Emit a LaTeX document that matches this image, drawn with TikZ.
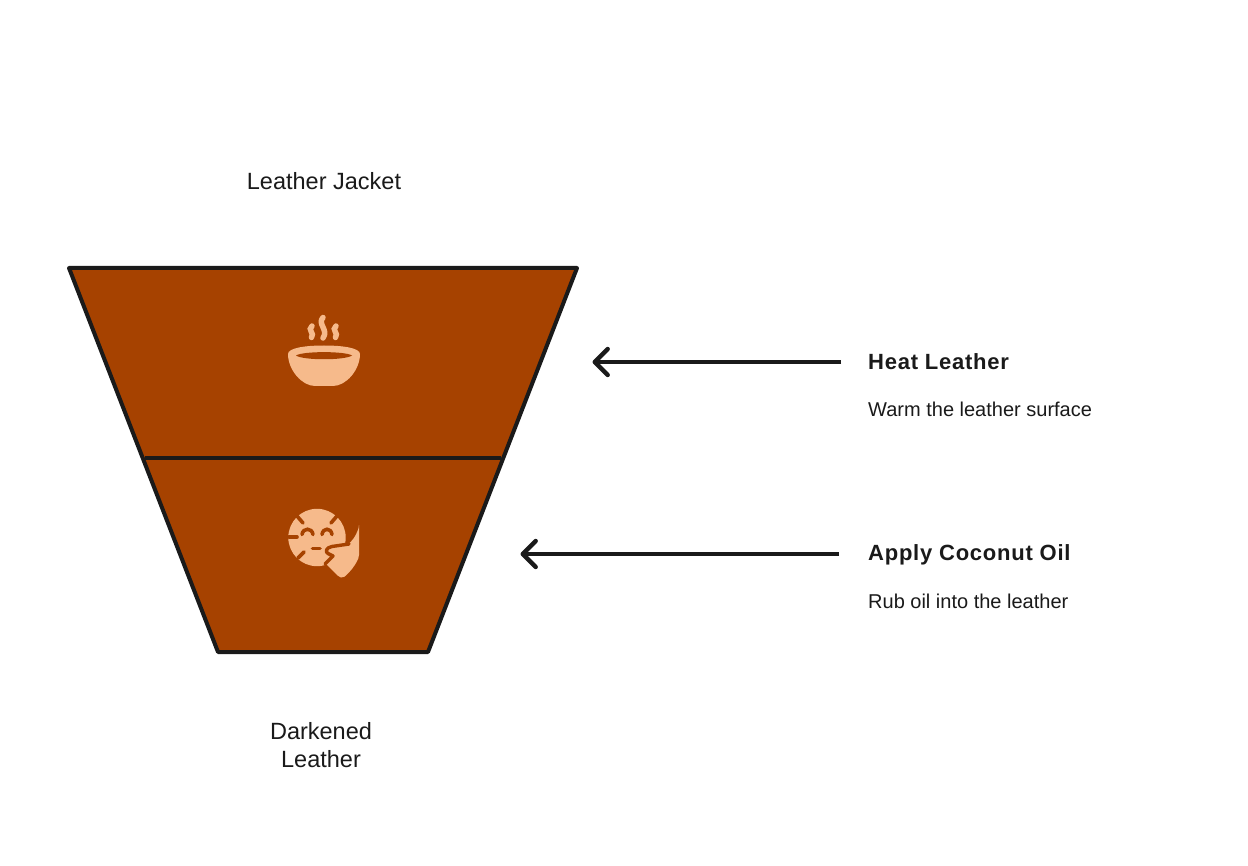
\documentclass[tikz,border=0pt]{standalone}
\usepackage{fontspec}
\setmainfont{Liberation Sans}
\usetikzlibrary{arrows.meta}
\definecolor{leather}{HTML}{A64200}
\definecolor{ink}{HTML}{1A1A1A}
\definecolor{peach}{HTML}{F6BA8B}
\tikzset{
  x=1pt,y=-1pt,
  funnelpart/.style={draw=ink,line width=4pt,fill=leather,line join=round},
  caption/.style={text=ink,font=\fontsize{23.5}{28}\selectfont,align=center},
  heading/.style={text=ink,font=\fontsize{22}{26}\selectfont\bfseries\addfontfeature{LetterSpace=3.4},anchor=west,inner sep=0pt},
  detail/.style={text=ink,font=\fontsize{20}{24}\selectfont,anchor=west,inner sep=0pt},
  pointer/.style={draw=ink,line width=4.4pt,-{Straight Barb[length=13pt,width=26pt,round]}},
  steam/.style={draw=peach,line width=5.5pt,line cap=round},
  iconcut/.style={draw=leather,line width=3.6pt,line cap=round}
}
\begin{document}
\begin{tikzpicture}
\useasboundingbox (0,0) rectangle (1248,866);
\fill[white] (0,0) rectangle (1248,866);
% funnel
\path[funnelpart] (69,268) -- (577,268) -- (428,652) -- (218,652) -- cycle;
\coordinate (ml) at (145,458);
\coordinate (mr) at (501,458);
\draw[ink,line width=4pt] (ml) -- (mr);
% texts
\node[caption] (top) at (324,181) {Leather Jacket};
\node[caption] (bottom) at (321,745) {Darkened\\Leather};
\node[heading] (h1) at (868,361.5) {Heat Leather};
\node[detail] (d1) at (868,409) {Warm the leather surface};
\node[heading] (h2) at (868,554.5) {Apply Coconut Oil};
\node[detail] (d2) at (868,601) {Rub oil into the leather};
% arrows
\coordinate (a1s) at (841,362);
\coordinate (a1e) at (592.5,362);
\coordinate (a2s) at (839,554);
\coordinate (a2e) at (520.5,554);
\draw[pointer] (a1s) -- (a1e);
\draw[pointer] (a2s) -- (a2e);
% bowl icon
\fill[peach] (288,354) .. controls (288,348) and (305,345.5) .. (324,345.5) .. controls (343,345.5) and (360,348) .. (360,354)
  .. controls (360,370) and (346,386) .. (333,386) -- (315,386) .. controls (302,386) and (288,370) .. (288,354) -- cycle;
\fill[leather] (296,355.5) .. controls (303,351) and (345,351) .. (352,355.5) .. controls (345,360.5) and (303,360.5) .. (296,355.5) -- cycle;
\draw[steam] (312,326) .. controls (307,330) and (315,333) .. (311.5,337.5);
\draw[steam] (323,317.5) .. controls (317,324) and (329,330) .. (323,338);
\draw[steam] (336,326) .. controls (331,330) and (339,333) .. (335.5,337.5);
% face icon
\fill[peach] (317,537.5) circle (28.7);
\draw[iconcut] (297,516) -- (303,523);
\draw[iconcut] (337,516) -- (331,523);
\draw[iconcut] (289,537) -- (297,537);
\draw[iconcut] (298,558) -- (304,552);
\draw[iconcut] (312.5,548.5) -- (320,548.5);
\draw[iconcut] (302,534.5) .. controls (303,527.5) and (312,527.5) .. (313,534.5);
\draw[iconcut] (322,534.5) .. controls (323,527.5) and (331,527.5) .. (332,534.5);
\fill[peach,rounded corners=2pt] (359,527) -- (359,557) .. controls (355,566) and (350,572) .. (343,578) -- (339,577) -- (325,563) -- (330,553) -- (345,546) .. controls (351,543) and (356,536) .. cycle;
\draw[leather,line width=3.4pt,line cap=round,line join=round] (349,544) -- (332,546.5) .. controls (326,547.5) and (325,552) .. (328,553.5) -- (333,556) -- (325,564);
\end{tikzpicture}
\end{document}
